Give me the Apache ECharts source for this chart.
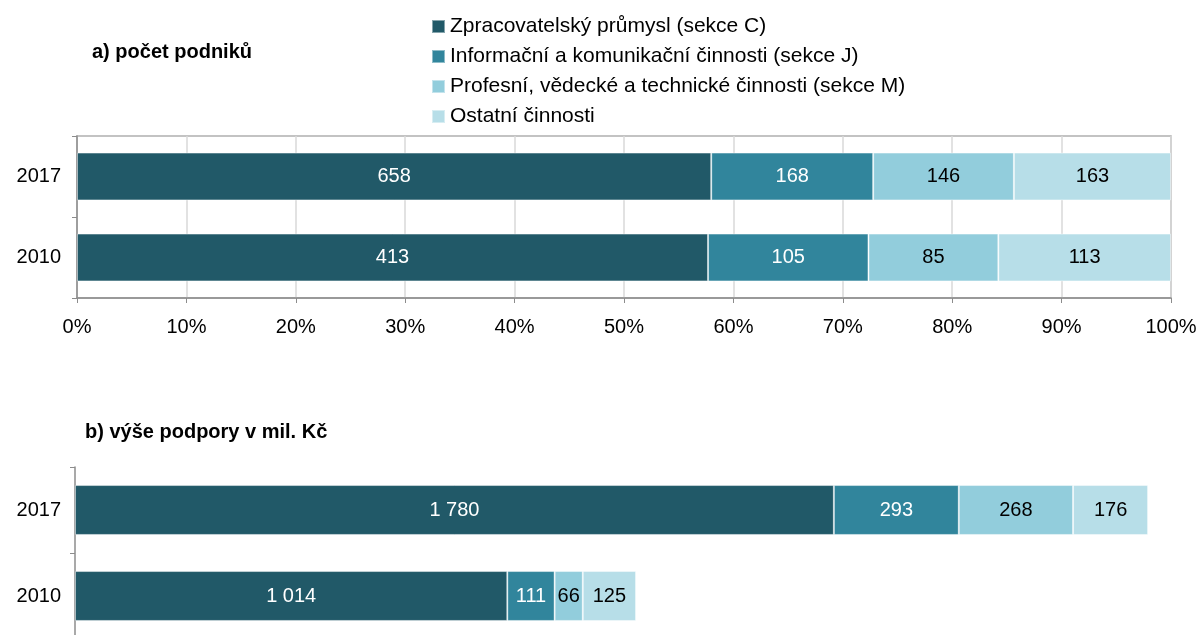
<!DOCTYPE html>
<html>
<head>
<meta charset="utf-8">
<script src="https://cdn.jsdelivr.net/npm/echarts@6/dist/echarts.min.js"></script>
<style>
  html, body { margin: 0; padding: 0; background: #fff; }
  #chart { width: 1200px; height: 635px; }
</style>
</head>
<body>
<div id="chart"></div>
<script>
var years = ['2017', '2010'];
var sectors = [
  'Zpracovatelský průmysl (sekce C)',
  'Informační a komunikační činnosti (sekce J)',
  'Profesní, vědecké a technické činnosti (sekce M)',
  'Ostatní činnosti'
];
var colors = ['#215968', '#31859c', '#92cddc', '#b7dee8'];
var labelColors = ['#ffffff', '#ffffff', '#000000', '#000000'];

// a) počet podniků (2017, 2010)
var countC = [658, 413];
var countJ = [168, 105];
var countM = [146, 85];
var countOther = [163, 113];

// b) výše podpory v mil. Kč (2017, 2010)
var supportC = [1780, 1014];
var supportJ = [293, 111];
var supportM = [268, 66];
var supportOther = [176, 125];

var pctTicks = ['0%', '10%', '20%', '30%', '40%', '50%', '60%', '70%', '80%', '90%', '100%'];

var counts = [countC, countJ, countM, countOther];
var supports = [supportC, supportJ, supportM, supportOther];

var totals = years.map(function (y, i) {
  return counts.reduce(function (s, arr) { return s + arr[i]; }, 0);
});

function fmt(v) {
  return String(v).replace(/\B(?=(\d{3})+(?!\d))/g, ' ');
}

var font = 'Liberation Sans, Arial, sans-serif';
var series = [];
counts.forEach(function (arr, k) {
  series.push({
    name: sectors[k],
    type: 'bar',
    stack: 'a',
    xAxisIndex: 0,
    yAxisIndex: 0,
    barCategoryGap: '41%',
    itemStyle: { color: colors[k], borderColor: 'rgba(255,255,255,0.45)', borderWidth: 1 },
    label: {
      show: true,
      position: 'inside',
      color: labelColors[k],
      fontSize: 20,
      fontFamily: font,
      formatter: function (p) { return fmt(arr[p.dataIndex]); }
    },
    data: arr.map(function (v, i) { return v / totals[i] * 100; })
  });
});
supports.forEach(function (arr, k) {
  series.push({
    name: sectors[k],
    type: 'bar',
    stack: 'b',
    xAxisIndex: 1,
    yAxisIndex: 1,
    barCategoryGap: '42%',
    itemStyle: { color: colors[k], borderColor: 'rgba(255,255,255,0.45)', borderWidth: 1 },
    label: {
      show: true,
      position: 'inside',
      color: labelColors[k],
      fontSize: 20,
      fontFamily: font,
      overflow: 'none',
      formatter: function (p) { return fmt(p.value); }
    },
    data: arr
  });
});

var chart = echarts.init(document.getElementById('chart'));
chart.setOption({
  animation: false,
  textStyle: { fontFamily: font },
  title: [
    { text: 'a) počet podniků', left: 87, top: 37, textStyle: { fontSize: 20, fontWeight: 'bold', color: '#000', fontFamily: font } },
    { text: 'b) výše podpory v mil. Kč', left: 80, top: 417, textStyle: { fontSize: 20, fontWeight: 'bold', color: '#000', fontFamily: font } }
  ],
  legend: {
    orient: 'vertical',
    left: 426,
    top: 11,
    itemWidth: 13,
    itemHeight: 13,
    itemGap: 9,
    icon: 'rect',
    data: sectors,
    textStyle: { fontSize: 21, color: '#000', fontFamily: font }
  },
  grid: [
    { left: 77, top: 136, width: 1094, height: 162, outerBoundsMode: 'none', show: true, borderColor: '#b0b0b0', borderWidth: 1.5 },
    { left: 75, top: 467, width: 1279, height: 172, outerBoundsMode: 'none' }
  ],
  xAxis: [
    {
      gridIndex: 0,
      type: 'value',
      min: 0,
      max: 100,
      interval: 10,
      axisLine: { show: true, lineStyle: { color: '#8c8c8c', width: 1.5 } },
      axisTick: { show: true, length: 5, lineStyle: { color: '#8c8c8c' } },
      splitLine: { show: true, lineStyle: { color: '#d9d9d9', width: 1.5 } },
      axisLabel: {
        fontSize: 20, color: '#000', margin: 19, fontFamily: font,
        formatter: function (v) { return pctTicks[Math.round(v / 10)]; }
      }
    },
    {
      gridIndex: 1,
      type: 'value',
      min: 0,
      max: 3000,
      axisLine: { show: false },
      axisTick: { show: false },
      splitLine: { show: false },
      axisLabel: { show: false }
    }
  ],
  yAxis: [
    {
      gridIndex: 0,
      type: 'category',
      inverse: true,
      data: years,
      axisLine: { show: true, lineStyle: { color: '#8c8c8c', width: 1.5 } },
      axisTick: { show: true, length: 5, lineStyle: { color: '#8c8c8c' } },
      axisLabel: { fontSize: 20, color: '#000', margin: 16, fontFamily: font }
    },
    {
      gridIndex: 1,
      type: 'category',
      inverse: true,
      data: years,
      axisLine: { show: true, lineStyle: { color: '#8c8c8c', width: 1.5 } },
      axisTick: { show: true, length: 5, lineStyle: { color: '#8c8c8c' } },
      axisLabel: { fontSize: 20, color: '#000', margin: 14, fontFamily: font }
    }
  ],
  series: series
});
</script>
</body>
</html>
